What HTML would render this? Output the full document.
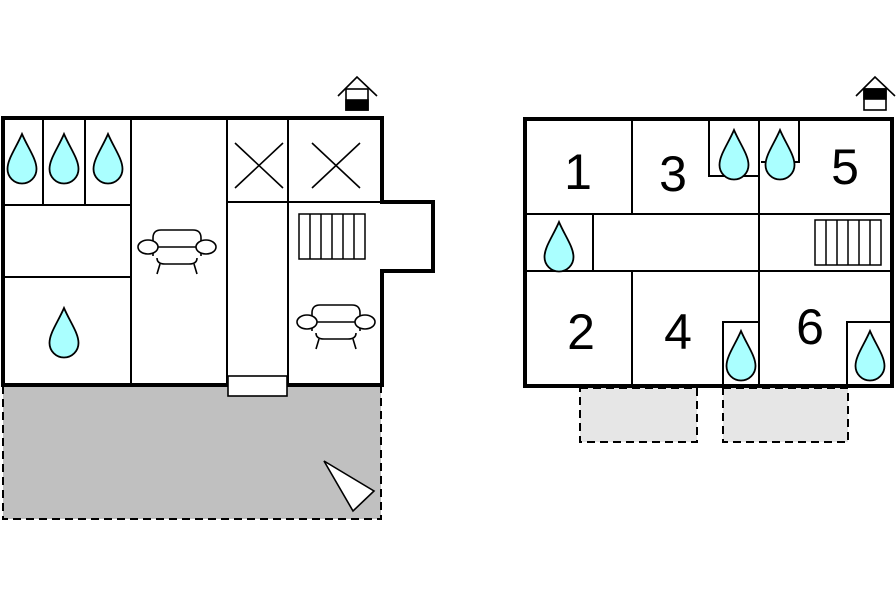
<!DOCTYPE html>
<html><head><style>body{margin:0;background:#fff}svg{display:block}</style></head><body>
<svg width="896" height="597" viewBox="0 0 896 597" xmlns="http://www.w3.org/2000/svg">
<defs>
<path id="drop" d="M0,-25 C-6,-11 -14.5,0 -14.5,10 A14.5,14.5 0 0 0 14.5,10 C14.5,0 6,-11 0,-25Z" fill="#aaffff" stroke="#000" stroke-width="1.8"/>
<g id="sofa" fill="#fff" stroke="#000" stroke-width="1.6">
<path d="M-24,6 L-24,-12 Q-24,-20 -16,-20 L16,-20 Q24,-20 24,-12 L24,6"/>
<path d="M-20,-3 L20,-3 M-20,8 Q-20,14 -12,14 L12,14 Q20,14 20,8"/>
<ellipse cx="-29" cy="-3" rx="10" ry="7"/>
<ellipse cx="29" cy="-3" rx="10" ry="7"/>
<path d="M-17,14 L-20,24 M17,14 L20,24" fill="none"/>
</g>
<g id="stair" fill="#fff" stroke="#000" stroke-width="1.5">
<rect x="0" y="0" width="66" height="45"/>
<path d="M11,0V45M22,0V45M33,0V45M44,0V45M55,0V45"/>
</g>
</defs>
<rect x="3" y="386" width="378" height="133" fill="#c0c0c0" stroke="#000" stroke-width="2" stroke-dasharray="8,5"/>
<polygon points="324,461 374,491 353,511" fill="#fff" stroke="#000" stroke-width="1.6"/>
<rect x="382" y="202" width="51" height="69" fill="#fff" stroke="#000" stroke-width="4"/>
<rect x="3" y="118" width="379" height="267" fill="#fff" stroke="#000" stroke-width="4"/>
<rect x="380" y="204" width="5" height="65" fill="#fff"/>
<g stroke="#000" stroke-width="2" fill="none">
<path d="M43,118V205M85,118V205M131,118V385M227,118V385M288,118V385"/>
<path d="M3,205H131M3,277H131M227,202H382"/>
<path d="M235,143L283,188M283,143L235,188M312,143L360,188M360,143L312,188" stroke-width="1.6"/>
</g>
<rect x="228" y="376" width="59" height="20" fill="#fff" stroke="#000" stroke-width="1.6"/>
<use href="#drop" x="22" y="159"/><use href="#drop" x="64" y="159"/><use href="#drop" x="108" y="159"/>
<use href="#drop" x="64" y="333"/>
<use href="#sofa" x="177" y="250"/>
<use href="#sofa" x="336" y="325"/>
<use href="#stair" x="299" y="214"/>
<g stroke="#000" stroke-width="1.6" fill="#fff">
<path d="M338,96L357,77L377,96" fill="none"/>
<rect x="346" y="89" width="22" height="21"/>
<rect x="346" y="100" width="22" height="10" fill="#000"/>
</g>
<rect x="580" y="388" width="117" height="54" fill="#e6e6e6" stroke="#000" stroke-width="2" stroke-dasharray="8,5"/>
<rect x="723" y="388" width="125" height="54" fill="#e6e6e6" stroke="#000" stroke-width="2" stroke-dasharray="8,5"/>
<rect x="525" y="119" width="367" height="267" fill="#fff" stroke="#000" stroke-width="4"/>
<g stroke="#000" stroke-width="2" fill="none">
<path d="M632,119V214M632,271V386M759,119V386M593,214V271"/>
<path d="M525,214H892M525,271H892"/>
<path d="M709,119V176H759M799,119V162H761M723,386V322H759M847,386V322H892"/>
</g>
<use href="#drop" x="734" y="155"/><use href="#drop" x="780" y="155"/>
<use href="#drop" x="559" y="247"/>
<use href="#drop" x="741" y="356"/><use href="#drop" x="870" y="356"/>
<use href="#stair" x="815" y="220"/>
<g font-family="Liberation Sans, sans-serif" font-size="50" text-anchor="middle" fill="#000">
<text x="578" y="189">1</text><text x="673" y="191">3</text><text x="845" y="184">5</text>
<text x="581" y="349">2</text><text x="678" y="349">4</text><text x="810" y="344">6</text>
</g>
<g stroke="#000" stroke-width="1.6" fill="#fff">
<path d="M856,96L875,77L895,96" fill="none"/>
<rect x="864" y="89" width="22" height="21"/>
<rect x="864" y="89" width="22" height="10" fill="#000"/>
</g>
</svg>
</body></html>
